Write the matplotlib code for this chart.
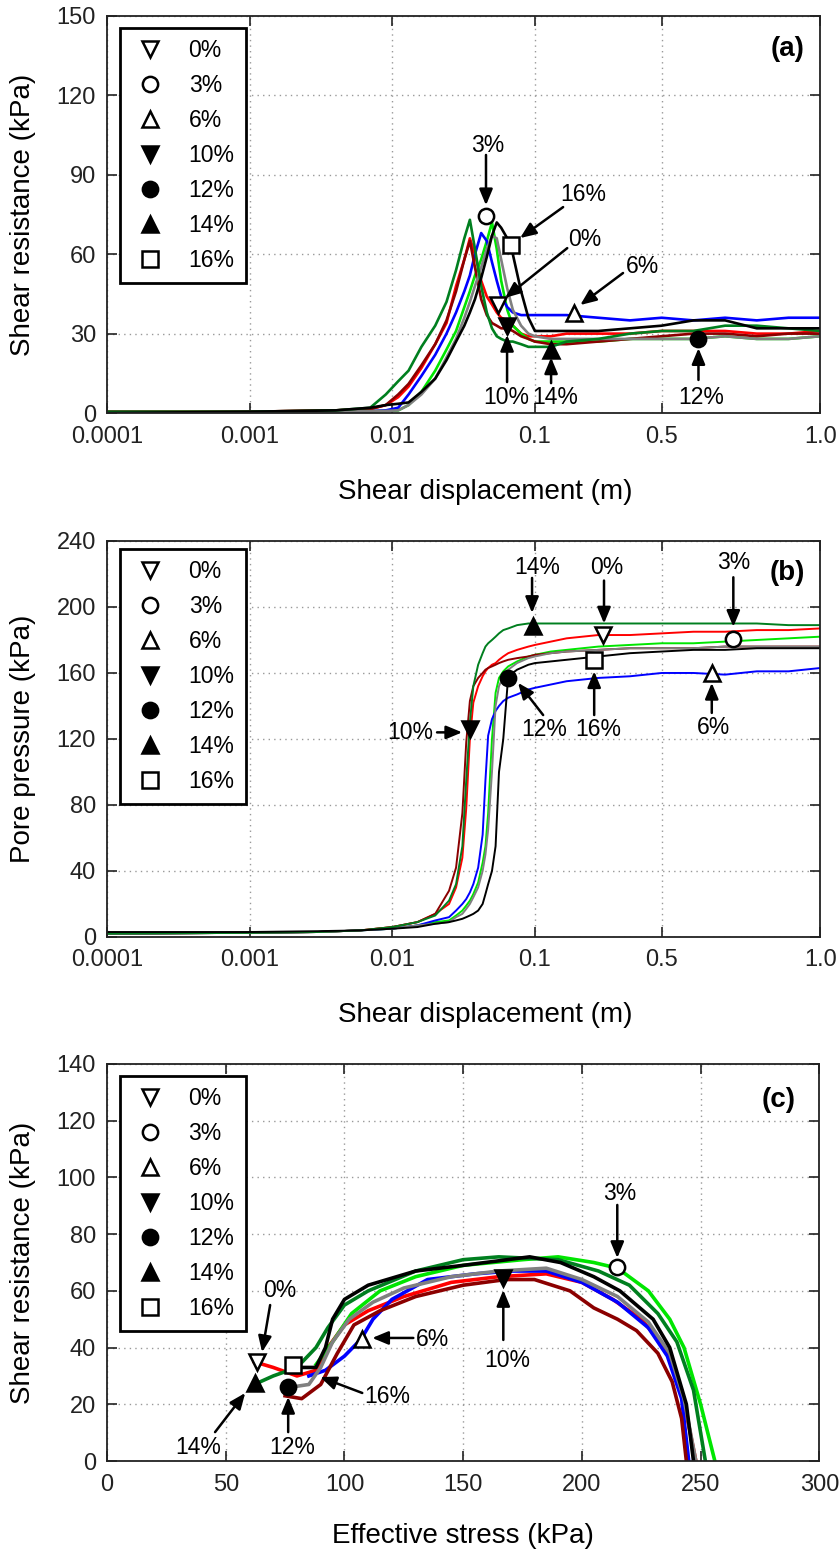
import numpy as np
import matplotlib
matplotlib.use('Agg')
import matplotlib.pyplot as plt
from matplotlib.lines import Line2D

plt.rcParams['font.family'] = ['Liberation Sans', 'DejaVu Sans']

# series info (order of the legend)
labels = ['0%', '3%', '6%', '10%', '12%', '14%', '16%']
colors = ['#ff0000', '#00e600', '#0000ff', '#8b0000', '#808080', '#007f1f', '#000000']
markers = ['v', 'o', '^', 'v', 'o', '^', 's']
fills = ['white', 'white', 'white', 'black', 'black', 'black', 'white']

# (a) shear resistance vs shear displacement
xa = [0.0001, 0.001, 0.004, 0.007, 0.009, 0.011, 0.013, 0.016, 0.02, 0.024, 0.028, 0.032,
      0.035, 0.038, 0.042, 0.046, 0.05, 0.054, 0.058, 0.064, 0.07, 0.08, 0.09, 0.1,
      0.15, 0.2, 0.3, 0.4, 0.5, 0.6, 0.7, 0.8, 0.9, 1.0]
ya_0 = [0.5, 0.5, 1, 1.5, 3, 6, 10, 17, 26, 34, 48, 58, 66, 60, 50, 44, 41, 38, 36, 35, 33, 30,
        29, 29, 29, 30, 30, 30, 31, 31, 31, 30, 30, 31]
ya_3 = [0.3, 0.3, 0.5, 0.7, 0.8, 1, 3, 8, 16, 24, 31, 40, 46, 52, 58, 65, 72, 62, 50, 39, 33, 30,
        28, 27, 27, 27, 27, 28, 28, 28, 29, 28, 28, 29]
ya_6 = [0.3, 0.3, 0.5, 0.7, 1, 2, 7, 14, 22, 30, 38, 46, 52, 60, 68, 65, 57, 50, 44, 40, 38, 37,
        37, 37, 37, 37, 36, 35, 36, 35, 36, 35, 36, 36]
ya_10 = [0.5, 0.5, 1, 1.5, 3, 7, 11, 18, 26, 35, 46, 58, 65, 55, 43, 37, 34, 33, 32, 32, 31, 29,
         28, 27, 26, 26, 27, 28, 29, 30, 30, 29, 30, 30]
ya_12 = [0.3, 0.3, 0.5, 0.7, 0.8, 1, 3, 7, 13, 21, 28, 36, 42, 48, 55, 62, 67, 66, 58, 47, 39, 33,
         30, 29, 28, 28, 28, 28, 28, 28, 29, 28, 28, 29]
ya_14 = [0.5, 0.5, 1, 2, 7, 12, 16, 25, 33, 42, 54, 66, 73, 62, 48, 38, 32, 29, 28, 27, 27, 26,
         25, 25, 25, 27, 28, 30, 31, 31, 33, 33, 32, 31]
ya_16 = [0, 0.5, 1, 2, 3, 3.5, 4, 8, 13, 20, 27, 33, 38, 43, 51, 59, 67, 72, 70, 66, 60, 46,
         36, 31, 31, 31, 31, 32, 33, 35, 35, 32, 32, 32]
mark_ax = [0.0552, 0.0454, 0.224, 0.0638, 0.616, 0.151, 0.068]
mark_ay = [40.8, 74.4, 37.8, 33, 28, 24, 63.5]

# (b) pore pressure vs shear displacement
xb = [0.0001, 0.001, 0.003, 0.006, 0.01, 0.015, 0.02, 0.025, 0.028, 0.031, 0.033, 0.035, 0.037,
      0.04, 0.043, 0.045, 0.047, 0.05, 0.053, 0.056, 0.06, 0.065, 0.075, 0.09, 0.1, 0.15, 0.2,
      0.3, 0.4, 0.5, 0.6, 0.7, 0.8, 0.9, 1.0]
yb_0 = [2, 2.5, 3, 4, 6, 9, 14, 20, 30, 48, 78, 120, 142, 152, 158, 161, 163, 165, 166, 168,
        170, 172, 174, 176, 177, 179, 181, 183, 183, 184, 185, 185, 186, 186, 187]
yb_3 = [2, 2.5, 3, 4, 5, 7, 9, 10, 13, 16, 19, 22, 26, 33, 45, 55, 75, 120, 148, 157, 161, 164,
        167, 170, 171, 173, 174, 176, 177, 178, 178, 179, 180, 181, 182]
yb_6 = [2, 2.5, 3, 4, 5, 7, 10, 12, 16, 20, 23, 27, 32, 42, 62, 95, 122, 132, 137, 140, 143, 145,
        147, 150, 151, 153, 155, 157, 158, 160, 160, 159, 161, 161, 163]
yb_10 = [2, 2.5, 3, 4, 6, 9, 14, 28, 42, 75, 118, 143, 152, 157, 160, 162, 163, 164, 165, 166,
         167, 168, 169, 170, 171, 172, 173, 174, 175, 175, 175, 176, 176, 176, 176]
yb_12 = [2, 2.5, 3, 4, 5, 7, 8, 9, 12, 14, 17, 20, 24, 30, 40, 50, 65, 100, 140, 152, 158, 162,
         166, 169, 170, 172, 173, 174, 175, 175, 175, 176, 176, 176, 176]
yb_14 = [2, 2.5, 3, 4, 6, 9, 13, 22, 32, 55, 95, 130, 152, 165, 172, 176, 178, 180, 182, 184,
         186, 187, 189, 190, 190, 190, 190, 190, 190, 190, 190, 190, 190, 189, 189]
yb_16 = [3, 3, 3.5, 4, 5, 6, 8, 9, 10, 11, 12, 13, 14, 16, 20, 26, 32, 40, 55, 100, 120, 158,
         162, 165, 166, 167, 168, 170, 172, 173, 174, 174, 175, 175, 175]
mark_bx = [0.315, 0.726, 0.658, 0.0351, 0.0647, 0.097, 0.287]
mark_by = [183, 180.6, 160, 126, 157, 188.5, 168]

# (c) stress path
sx_0 = [248, 242, 235, 225, 213, 200, 185, 165, 145, 125, 110, 100, 93, 88, 80, 70, 62]
sy_0 = [0, 25, 40, 50, 57, 63, 66, 65, 63, 58, 53, 48, 40, 32, 30, 33, 35]
sx_3 = [256, 250, 243, 237, 228, 215, 205, 190, 175, 150, 130, 115, 103, 95, 88]
sy_3 = [0, 20, 40, 50, 60, 68, 70, 72, 71, 69, 65, 60, 52, 42, 34]
sx_6 = [245, 242, 236, 228, 215, 200, 185, 170, 155, 135, 120, 112, 107, 100, 92, 85]
sy_6 = [0, 22, 37, 47, 56, 63, 67, 67, 66, 64, 57, 50, 43, 37, 32, 30]
sx_10 = [244, 242, 238, 232, 223, 215, 205, 195, 180, 168, 150, 130, 115, 104, 97, 90, 82, 75]
sy_10 = [0, 15, 28, 38, 46, 50, 54, 60, 64, 64, 62, 58, 53, 48, 38, 27, 22, 23]
sx_12 = [248, 243, 237, 228, 215, 200, 185, 165, 145, 125, 112, 102, 95, 90, 85, 77]
sy_12 = [0, 22, 38, 49, 58, 64, 68, 67, 65, 61, 56, 50, 42, 33, 27, 26]
sx_14 = [252, 247, 240, 232, 220, 207, 190, 165, 150, 130, 110, 100, 93, 88, 80, 70, 62]
sy_14 = [0, 25, 42, 52, 62, 67, 71, 72, 71, 67, 60, 55, 47, 40, 33, 30, 27]
sx_16 = [247, 244, 237, 230, 216, 205, 191, 178, 150, 130, 110, 100, 95, 92, 88, 78]
sy_16 = [0, 20, 40, 50, 60, 65, 70, 72, 69, 67, 62, 57, 50, 40, 33, 33]
mark_cx = [63.2, 214.9, 107.5, 166.9, 76.3, 62.4, 78.4]
mark_cy = [34.9, 68.4, 43, 64.5, 26, 27.4, 33.8]


# x axis of (a),(b): log up to 0.1, then linear to 1.0
def fwd(x):
    x = np.asarray(x, dtype=float)
    xl = np.log10(np.clip(x, 1e-12, None)) + 4
    return np.where(x <= 0.1, xl, 3 + (x - 0.1) / 0.45)


def inv(u):
    u = np.asarray(u, dtype=float)
    return np.where(u <= 3, 10 ** (u - 4), 0.1 + (u - 3) * 0.45)


def style_axes(ax):
    ax.tick_params(direction='in', top=True, right=True, length=7, width=1.2,
                   labelsize=17, colors='#222222')
    ax.tick_params(axis='x', pad=9)
    ax.tick_params(axis='y', pad=8)
    ax.minorticks_off()
    ax.grid(True, ls=(0, (1, 3)), color='#999999', lw=1)
    for s in ax.spines.values():
        s.set_linewidth(1.3)
        s.set_color('#222222')


def add_legend(ax, top):
    handles = [Line2D([], [], ls='none', marker=m, ms=11, mfc=f, mec='k', mew=1.8)
               for m, f in zip(markers, fills)]
    leg = ax.legend(handles, labels, loc='upper left', bbox_to_anchor=(0.018, top),
                    borderaxespad=0, fontsize=16.5, fancybox=False, edgecolor='k',
                    framealpha=1, borderpad=0.5, handlelength=1.6, handletextpad=0.9,
                    labelspacing=0.52)
    leg.get_frame().set_linewidth(2)


def add_marks(ax, mx, my):
    for i in range(7):
        ax.plot(mx[i], my[i], ls='none', marker=markers[i], ms=11, mfc=fills[i],
                mec='k', mew=1.8, zorder=6)


def note(ax, text, txy, tail, tip):
    ax.text(txy[0], txy[1], text, ha='center', va='center', fontsize=16.5, zorder=7)
    ax.annotate('', xy=tip, xytext=tail, zorder=7,
                arrowprops=dict(arrowstyle='-|>,head_length=0.6,head_width=0.25',
                                color='k', lw=1.8, mutation_scale=16,
                                shrinkA=0, shrinkB=0))


fig = plt.figure(figsize=(8.4, 15.51), dpi=100)

# ---------- (a) ----------
ax1 = fig.add_axes([0.1274, 0.7337, 0.849, 0.256])
ax1.set_xscale('function', functions=(fwd, inv))
for y, c in zip([ya_0, ya_3, ya_6, ya_10, ya_12, ya_14, ya_16], colors):
    ax1.plot(xa, y, color=c, lw=1.9)
add_marks(ax1, mark_ax, mark_ay)
ax1.set_xlim(0.0001, 1.0)
ax1.set_ylim(0, 150)
ax1.set_xticks([0.0001, 0.001, 0.01, 0.1, 0.5, 1.0])
ax1.set_xticklabels(['0.0001', '0.001', '0.01', '0.1', '0.5', '1.0'])
ax1.set_yticks(np.arange(0, 151, 30))
style_axes(ax1)
ax1.set_xlabel('Shear displacement (m)', fontsize=20)
ax1.set_ylabel('Shear resistance (kPa)', fontsize=20)
ax1.xaxis.set_label_coords(0.53, -0.165)
ax1.yaxis.set_label_coords(-0.10, 0.5)
add_legend(ax1, 0.97)
ax1.text(0.954, 0.917, '(a)', transform=ax1.transAxes, ha='center', va='center',
         fontsize=20, fontweight='bold')
note(ax1, '3%', (0.047, 101), (0.0454, 97.5), (0.0454, 78.5))
note(ax1, '16%', (0.252, 82.4), (0.189, 77.8), (0.0787, 66.1))
note(ax1, '0%', (0.258, 65.4), (0.202, 62.3), (0.0618, 43.5))
note(ax1, '6%', (0.438, 55.2), (0.378, 52.9), (0.243, 40.8))
note(ax1, '10%', (0.0628, 6), (0.0638, 11.7), (0.0638, 29.5))
note(ax1, '14%', (0.164, 6), (0.151, 11.3), (0.151, 21))
note(ax1, '12%', (0.624, 6), (0.616, 12.5), (0.616, 24.5))

# ---------- (b) ----------
ax2 = fig.add_axes([0.1274, 0.3959, 0.849, 0.2553])
ax2.set_xscale('function', functions=(fwd, inv))
for y, c in zip([yb_0, yb_3, yb_6, yb_10, yb_12, yb_14, yb_16], colors):
    ax2.plot(xb, y, color=c, lw=1.4)
add_marks(ax2, mark_bx, mark_by)
ax2.set_xlim(0.0001, 1.0)
ax2.set_ylim(0, 240)
ax2.set_xticks([0.0001, 0.001, 0.01, 0.1, 0.5, 1.0])
ax2.set_xticklabels(['0.0001', '0.001', '0.01', '0.1', '0.5', '1.0'])
ax2.set_yticks(np.arange(0, 241, 40))
style_axes(ax2)
ax2.set_xlabel('Shear displacement (m)', fontsize=20)
ax2.set_ylabel('Pore pressure (kPa)', fontsize=20)
ax2.xaxis.set_label_coords(0.53, -0.165)
ax2.yaxis.set_label_coords(-0.10, 0.5)
add_legend(ax2, 0.98)
ax2.text(0.954, 0.919, '(b)', transform=ax2.transAxes, ha='center', va='center',
         fontsize=20, fontweight='bold')
note(ax2, '14%', (0.107, 224), (0.0955, 217.6), (0.0955, 196.4))
note(ax2, '0%', (0.328, 224), (0.318, 216), (0.318, 190))
note(ax2, '3%', (0.726, 226.7), (0.726, 218), (0.726, 188))
note(ax2, '10%', (0.01334, 124), (0.0206, 124), (0.0309, 124))
note(ax2, '12%', (0.129, 126), (0.126, 134.5), (0.0762, 154))
note(ax2, '16%', (0.299, 126), (0.287, 134.5), (0.287, 161))
note(ax2, '6%', (0.6625, 126.7), (0.658, 135.8), (0.658, 154))

# ---------- (c) ----------
ax3 = fig.add_axes([0.1274, 0.058, 0.848, 0.256])
for sx, sy, c in zip([sx_0, sx_3, sx_6, sx_10, sx_12, sx_14, sx_16],
                     [sy_0, sy_3, sy_6, sy_10, sy_12, sy_14, sy_16], colors):
    ax3.plot(sx, sy, color=c, lw=2.6)
add_marks(ax3, mark_cx, mark_cy)
ax3.set_xlim(0, 300)
ax3.set_ylim(0, 140)
ax3.set_xticks(np.arange(0, 301, 50))
ax3.set_yticks(np.arange(0, 141, 20))
style_axes(ax3)
ax3.set_xlabel('Effective stress (kPa)', fontsize=20)
ax3.set_ylabel('Shear resistance (kPa)', fontsize=20)
ax3.xaxis.set_label_coords(0.5, -0.155)
ax3.yaxis.set_label_coords(-0.10, 0.5)
add_legend(ax3, 0.97)
ax3.text(0.9425, 0.909, '(c)', transform=ax3.transAxes, ha='center', va='center',
         fontsize=20, fontweight='bold')
note(ax3, '0%', (72.9, 60.3), (68.7, 55), (65.3, 38.4))
note(ax3, '14%', (38.3, 4.6), (45.5, 10.2), (58.2, 24))
note(ax3, '12%', (78, 4.6), (76.3, 10.2), (76.3, 22.6))
note(ax3, '16%', (118, 22.6), (107.5, 24), (89.8, 29.6))
note(ax3, '6%', (137, 42.7), (129, 43.4), (111.7, 43.4))
note(ax3, '10%', (168.6, 35.6), (166.9, 42.7), (166.9, 60.3))
note(ax3, '3%', (215.8, 94.5), (214.9, 90.3), (214.9, 71.6))

fig.savefig('out.png', dpi=100)
